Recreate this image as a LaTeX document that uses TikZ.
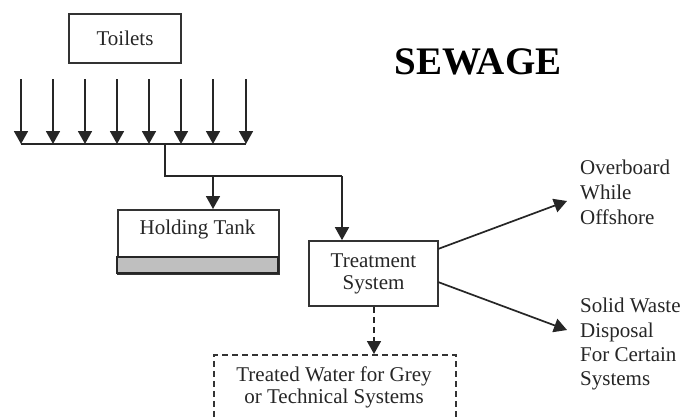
\documentclass[tikz,border=0pt]{standalone}
\usepackage{fontspec}
\setmainfont{Liberation Serif}
\usetikzlibrary{arrows.meta}
\begin{document}
\begin{tikzpicture}[x=1pt,y=-1pt,
  every node/.style={font=\fontsize{21}{22}\selectfont, inner sep=0pt, text=black!85},
  line/.style={line width=1.7pt, draw=black!85},
  arr/.style={line, -{Triangle[width=14pt,length=13pt]}},
  boxed/.style={draw=black!80, line width=1.7pt, fill=white}]
\clip (0,0) rectangle (685,416);
\fill[white] (0,0) rectangle (685,416);
% Toilets
\node[boxed, minimum width=112pt, minimum height=49pt] (toilets) at (125,38.5) {Toilets};
% title
\node[font=\fontsize{39}{40}\selectfont\bfseries, text=black] (title) at (478,62) {SEWAGE};
% eight inflow arrows
\foreach \i/\x in {1/21,2/53,3/85,4/117,5/149,6/181,7/213,8/246}{
  \coordinate (s\i) at (\x,79);
  \coordinate (e\i) at (\x,144);
  \draw[arr] (s\i) -- (e\i);
}
\draw[line] (e1) -- (e8);
\coordinate (j0) at (165,144);
\coordinate (j1) at (165,176);
\coordinate (j2) at (213,176);
\coordinate (j3) at (342,176);
% Holding tank
\node[boxed, minimum width=161pt, minimum height=64pt, anchor=north west] (tank) at (117,209) {};
\node (tanklbl) at (197.5,229) {Holding Tank};
\draw[line, fill=black!25] (117,257) rectangle (278,273);
% Treatment system
\node[boxed, minimum width=129pt, minimum height=65pt, align=center, font=\fontsize{21}{22}\selectfont] (treat) at (373.5,273.5) {Treatment\\System};
% connectors
\draw[line] (j0) -- (j1) -- (j3);
\draw[arr] (j2) -- (tank.north -| j2);
\draw[arr] (j3) -- (treat.north -| j3);
% treated water (dashed)
\node[draw=black!80, line width=1.7pt, dash pattern=on 6pt off 4pt, minimum width=242pt, minimum height=80pt, anchor=north west] (water) at (213,354) {};
\node[align=center] (waterlbl) at (334,387) {Treated Water for Grey\\or Technical Systems};
\draw[arr, dash pattern=on 6pt off 4pt] (treat.south -| 374,0) -- (water.north -| 374,0);
% outputs
\node[anchor=north west, align=left, font=\fontsize{21}{25}\selectfont] (over) at (580,160) {Overboard\\While\\Offshore};
\node[anchor=north west, align=left, font=\fontsize{21}{24.3}\selectfont] (solid) at (580,298) {Solid Waste\\Disposal\\For Certain\\Systems};
\coordinate (o1) at (438,249);
\coordinate (o2) at (567,201);
\coordinate (o3) at (438,282);
\coordinate (o4) at (567,330);
\draw[arr] (o1) -- (o2);
\draw[arr] (o3) -- (o4);
\end{tikzpicture}
\end{document}
